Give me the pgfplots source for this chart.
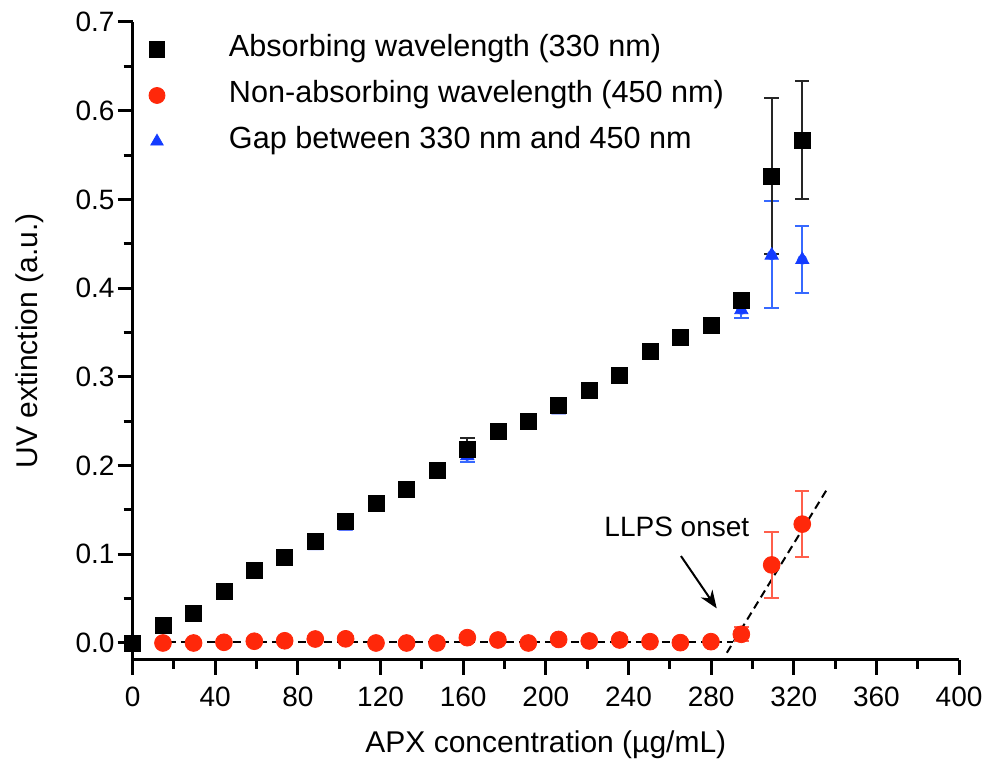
\documentclass[border=0pt]{standalone}
\usepackage{fontspec}
\setmainfont{Liberation Sans}
\usepackage{pgfplots}
\usepackage{pgfplotstable}
\pgfplotsset{compat=1.18}
\usetikzlibrary{arrows.meta}

\definecolor{cred}{RGB}{255,40,10}
\definecolor{cerrred}{RGB}{255,95,75}
\definecolor{cblue}{RGB}{20,60,255}
\definecolor{cerrblue}{RGB}{55,105,255}

% Absorbing wavelength (330 nm)
\pgfplotstableread{
x y
0 0
14.7 0.020
29.5 0.0335
44.2 0.0586
58.9 0.0815
73.6 0.097
88.4 0.115
103.1 0.1375
117.8 0.157
132.6 0.1736
147.3 0.195
162.0 0.218
176.8 0.239
191.5 0.250
206.2 0.2675
221.0 0.2845
235.7 0.302
250.4 0.329
265.1 0.344
279.9 0.3585
294.6 0.386
309.3 0.526
324.1 0.567
}\blackdata
\pgfplotstableread{
x y ep em
162.0 0.218 0.0135 0.005
309.3 0.526 0.088 0.088
324.1 0.567 0.066 0.066
}\blackerr

% Non-absorbing wavelength (450 nm)
\pgfplotstableread{
x y
14.7 0.000
29.5 0.000
44.2 0.0008
58.9 0.002
73.6 0.0025
88.4 0.0045
103.1 0.0047
117.8 0.000
132.6 0.000
147.3 0.000
162.0 0.006
176.8 0.0034
191.5 0.000
206.2 0.004
221.0 0.0023
235.7 0.0034
250.4 0.0015
265.1 0.0004
279.9 0.0015
294.6 0.0098
309.3 0.088
324.1 0.134
}\reddata
\pgfplotstableread{
x y ep em
294.6 0.0098 0.008 0.008
309.3 0.088 0.037 0.037
324.1 0.134 0.037 0.037
}\rederr

% Gap between 330 nm and 450 nm
\pgfplotstableread{
x y
0 0
14.7 0.018
29.5 0.0318
44.2 0.0565
58.9 0.0785
73.6 0.0935
88.4 0.1095
103.1 0.1315
117.8 0.155
132.6 0.171
147.3 0.192
162.0 0.211
176.8 0.234
191.5 0.248
206.2 0.2625
221.0 0.281
235.7 0.2975
250.4 0.326
265.1 0.341
279.9 0.355
294.6 0.3755
309.3 0.437
324.1 0.432
}\bluedata
\pgfplotstableread{
x y ep em
162.0 0.211 0.0075 0.0075
294.6 0.3755 0.004 0.009
309.3 0.437 0.061 0.059
324.1 0.432 0.038 0.037
}\blueerr

\begin{document}
\begin{tikzpicture}
\begin{axis}[
  name=ax, at={(0,0)}, anchor=south west,
  scale only axis, width=413.25pt, height=319pt,
  xmin=0, xmax=400, ymin=-0.01916, ymax=0.7,
  axis x line*=bottom, axis y line*=left,
  axis line style={line width=1.5pt, black},
  every tick/.style={line width=1.5pt, black},
  every minor tick/.style={line width=1.5pt, black},
  tick align=outside,
  xtick={0,40,80,120,160,200,240,280,320,360,400},
  minor xtick={20,60,100,140,180,220,260,300,340,380},
  ytick={0,0.1,0.2,0.3,0.4,0.5,0.6,0.7},
  minor ytick={0.05,0.15,0.25,0.35,0.45,0.55,0.65},
  major tick length=7.5pt, minor tick length=4.5pt,
  /pgf/number format/assume math mode=true,
  ticklabel style={font=\fontsize{14}{16}\selectfont},
  yticklabel style={xshift=2pt, /pgf/number format/.cd, fixed, fixed zerofill, precision=1},
  xticklabel style={yshift=-2.5pt, /pgf/number format/.cd, fixed, precision=0},
  legend style={at={(0,1)}, anchor=north west, draw=none, fill=none,
    inner sep=0pt, outer sep=0pt, xshift=8.2pt, yshift=-6.5pt,
    font=\fontsize{15.3}{18}\selectfont, row sep=8.5pt, column sep=32pt,
    nodes={inner sep=0pt, text height=11pt, text depth=3.5pt}},
  legend cell align=left,
  clip=false,
]
\addlegendimage{only marks, mark=square*, black, mark size=3.8pt}
\addlegendentry{Absorbing wavelength (330 nm)}
\addlegendimage{only marks, mark=*, cred, mark size=4pt}
\addlegendentry{Non-absorbing wavelength (450 nm)}
\addlegendimage{only marks, mark=triangle*, cblue, mark size=3.6pt}
\addlegendentry{Gap between 330 nm and 450 nm}

% dashed guide lines
\addplot[forget plot, black, line width=1pt, dash pattern=on 4pt off 2.5pt] coordinates {(10.8,0.0015) (290.8,0.0015)};
\addplot[forget plot, black, line width=1pt, dash pattern=on 4pt off 2.5pt] coordinates {(287.6,-0.011) (336,0.173)};

% blue
\addplot[forget plot, only marks, mark=none, cerrblue, line width=1pt,
  error bars/.cd, y dir=both, y explicit,
  error bar style={line width=1pt, cerrblue},
  error mark options={rotate=90, mark size=3.6pt, line width=1pt, cerrblue}]
  table[x=x, y=y, y error plus=ep, y error minus=em] {\blueerr};
\addplot[forget plot, only marks, mark=triangle*, cblue, mark size=3.8pt] table[x=x,y=y] {\bluedata};

% red
\addplot[forget plot, only marks, mark=none, cerrred, line width=1pt,
  error bars/.cd, y dir=both, y explicit,
  error bar style={line width=1pt, cerrred},
  error mark options={rotate=90, mark size=3.6pt, line width=1pt, cerrred}]
  table[x=x, y=y, y error plus=ep, y error minus=em] {\rederr};
\addplot[forget plot, only marks, mark=*, cred, mark size=4.2pt] table[x=x,y=y] {\reddata};

% black
\addplot[forget plot, only marks, mark=none, black, line width=1pt,
  error bars/.cd, y dir=both, y explicit,
  error bar style={line width=1pt, black!85},
  error mark options={rotate=90, mark size=3.6pt, line width=1pt, black!85}]
  table[x=x, y=y, y error plus=ep, y error minus=em] {\blackerr};
\addplot[forget plot, only marks, mark=square*, black, mark size=4pt] table[x=x,y=y] {\blackdata};

\node[font=\fontsize{14}{16}\selectfont] at (axis cs:263.4,0.131) {LLPS onset};
\draw[-{Stealth[length=9pt,width=7pt]}, line width=1pt] (axis cs:265.4,0.098) -- (axis cs:282.7,0.039);
\end{axis}
\node[anchor=base, font=\fontsize{15}{18}\selectfont] at ([yshift=-46.5pt]ax.south) {APX concentration (µg/mL)};
\node[anchor=base, rotate=90, font=\fontsize{15}{18}\selectfont] at ([xshift=-47.3pt]ax.west) {UV extinction (a.u.)};
\pgfresetboundingbox
\path[use as bounding box] (-66.3pt,-52pt) rectangle (426.2pt,330pt);
\end{tikzpicture}
\end{document}
